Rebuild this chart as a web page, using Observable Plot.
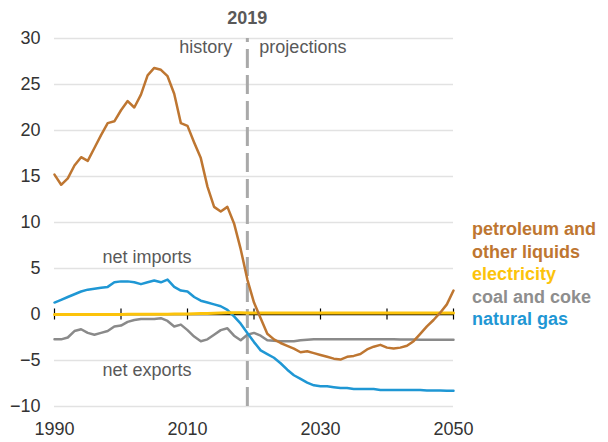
<!DOCTYPE html>
<html>
<head>
<meta charset="utf-8">
<script src="https://cdn.jsdelivr.net/npm/d3@7"></script>
<script src="https://cdn.jsdelivr.net/npm/@observablehq/plot@0.6"></script>
<style>
  html, body { margin: 0; padding: 0; background: #fff; }
  #wrap { position: relative; width: 608px; height: 442px; font-family: "Liberation Sans", Arial, sans-serif; }
  #legend { position: absolute; left: 472px; top: 218px; font-weight: bold; font-size: 18px; line-height: 22.6px; white-space: nowrap; }
</style>
</head>
<body>
<div id="wrap"><div id="legend"></div></div>
<script>
const years = d3.range(1990, 2051);

const petroleum = [15.2, 14.1, 14.8, 16.2, 17.1, 16.7, 18.1, 19.5, 20.8, 21.0,
  22.2, 23.2, 22.5, 23.9, 26.0, 26.8, 26.6, 25.9, 24.0, 20.8,
  20.5, 18.7, 17.0, 13.9, 11.7, 11.2, 11.7, 9.9, 7.1, 3.8,
  1.3, -0.4, -2.1, -2.7, -3.1, -3.4, -3.7, -4.1, -4.0, -4.2,
  -4.4, -4.6, -4.8, -4.9, -4.6, -4.5, -4.3, -3.8, -3.5, -3.3,
  -3.6, -3.7, -3.6, -3.4, -2.9, -2.1, -1.3, -0.6, 0.2, 1.1, 2.6];

const electricity = [0.0, 0.0, 0.0, 0.0, 0.0, 0.0, 0.0, 0.0, 0.0, 0.0,
  0.0, 0.02, 0.02, 0.03, 0.03, 0.03, 0.04, 0.04, 0.05, 0.05,
  0.06, 0.08, 0.1, 0.12, 0.14, 0.16, 0.18, 0.2, 0.2, 0.16,
  0.15, 0.15, 0.15, 0.15, 0.15, 0.15, 0.15, 0.15, 0.15, 0.15,
  0.15, 0.15, 0.15, 0.15, 0.15, 0.15, 0.15, 0.15, 0.15, 0.15,
  0.15, 0.15, 0.15, 0.15, 0.15, 0.15, 0.15, 0.15, 0.15, 0.15, 0.15];

const coal = [-2.7, -2.7, -2.5, -1.8, -1.6, -2.0, -2.2, -2.0, -1.8, -1.3,
  -1.2, -0.8, -0.6, -0.5, -0.5, -0.5, -0.4, -0.7, -1.3, -1.1,
  -1.7, -2.4, -2.9, -2.7, -2.2, -1.7, -1.5, -2.3, -2.8, -2.2,
  -2.0, -2.3, -2.8, -2.85, -2.9, -2.9, -2.9, -2.8, -2.75, -2.7,
  -2.7, -2.7, -2.7, -2.7, -2.7, -2.7, -2.7, -2.7, -2.7, -2.7,
  -2.7, -2.7, -2.72, -2.72, -2.72, -2.74, -2.74, -2.74, -2.75, -2.75, -2.75];

const naturalGas = [1.3, 1.6, 1.9, 2.2, 2.5, 2.7, 2.8, 2.9, 3.0, 3.5,
  3.6, 3.6, 3.5, 3.3, 3.5, 3.7, 3.5, 3.8, 3.0, 2.6,
  2.5, 1.9, 1.5, 1.3, 1.1, 0.9, 0.5, -0.2, -1.0, -2.0,
  -3.0, -3.9, -4.3, -4.7, -5.3, -6.0, -6.6, -7.0, -7.4, -7.7,
  -7.8, -7.8, -7.9, -8.0, -8.0, -8.1, -8.1, -8.1, -8.1, -8.2,
  -8.2, -8.2, -8.2, -8.2, -8.2, -8.2, -8.25, -8.25, -8.25, -8.3, -8.3];

const seriesNames = ["petroleum and other liquids", "electricity", "coal and coke", "natural gas"];
const legendLines = [["petroleum and", "#be7631"], ["other liquids", "#be7631"], ["electricity", "#fcc30b"], ["coal and coke", "#8e8e8e"], ["natural gas", "#1f97d4"]];
const yTicks = [-10, -5, 0, 5, 10, 15, 20, 25, 30];
const xLabels = [1990, 2010, 2030, 2050];
const xMinorTicks = [1990, 2000, 2010, 2020, 2030, 2040, 2050];
const splitYear = 2019;

const colors = {
  "petroleum and other liquids": "#be7631",
  "electricity": "#fcc30b",
  "coal and coke": "#8a8a8a",
  "natural gas": "#1f97d4"
};

const toRows = (vals, name) => years.map((yr, i) => ({year: yr, value: vals[i], series: name}));
const rowsPet = toRows(petroleum, seriesNames[0]);
const rowsEle = toRows(electricity, seriesNames[1]);
const rowsCoal = toRows(coal, seriesNames[2]);
const rowsGas = toRows(naturalGas, seriesNames[3]);

const labelColor = "#595959";

const chart = Plot.plot({
  width: 608,
  height: 442,
  marginLeft: 54,
  marginRight: 155,
  marginTop: 38,
  marginBottom: 36,
  style: {fontFamily: "'Liberation Sans', Arial, sans-serif", fontSize: "18px", color: "#333", background: "transparent", overflow: "visible"},
  x: {domain: [1990, 2050]},
  y: {domain: [-10, 30]},
  marks: [
    Plot.gridY(yTicks, {stroke: "#e2e2e2", strokeOpacity: 1, strokeWidth: 1.6}),
    Plot.axisY(yTicks, {tickSize: 0, tickPadding: 14, fontSize: 18, label: null}),
    Plot.axisX(xLabels, {tickSize: 0, tickPadding: 16, fontSize: 18, tickFormat: "d", label: null}),
    Plot.ruleY([0], {stroke: "#000", strokeWidth: 1.5}),
    Plot.ruleX(xMinorTicks, {x: d => d, y1: -0.6, y2: 0.6, stroke: "#000", strokeWidth: 1.2}),
    Plot.ruleX([splitYear], {x: d => d, y1: 30, y2: -10, stroke: "#a9a9a9", strokeWidth: 3, strokeDasharray: "19,7", strokeDashoffset: 15}),
    Plot.line(rowsCoal, {x: "year", y: "value", stroke: colors["coal and coke"], strokeWidth: 2.5}),
    Plot.line(rowsGas, {x: "year", y: "value", stroke: colors["natural gas"], strokeWidth: 2.5}),
    Plot.line(rowsEle, {x: "year", y: "value", stroke: colors["electricity"], strokeWidth: 3}),
    Plot.line(rowsPet, {x: "year", y: "value", stroke: colors["petroleum and other liquids"], strokeWidth: 2.5}),
    Plot.text([splitYear], {x: d => d, frameAnchor: "top", lineAnchor: "middle", dy: -20, text: d => String(d), fontWeight: "bold", fill: labelColor, fontSize: 18}),
    Plot.text(["history"], {x: () => splitYear, frameAnchor: "top", lineAnchor: "middle", dy: 9, dx: -15, textAnchor: "end", text: d => d, fill: labelColor, fontSize: 18}),
    Plot.text(["projections"], {x: () => splitYear, frameAnchor: "top", lineAnchor: "middle", dy: 9, dx: 12, textAnchor: "start", text: d => d, fill: labelColor, fontSize: 18}),
    Plot.text([{x: 2003.9, y: 6.2, t: "net imports"}], {x: "x", y: "y", text: "t", fill: labelColor, fontSize: 18}),
    Plot.text([{x: 2003.9, y: -6.1, t: "net exports"}], {x: "x", y: "y", text: "t", fill: labelColor, fontSize: 18})
  ]
});

const wrap = document.getElementById("wrap");
wrap.insertBefore(chart, wrap.firstChild);
const legend = document.getElementById("legend");
legendLines.forEach(([t, c]) => {
  const d = document.createElement("div");
  d.textContent = t;
  d.style.color = c;
  legend.appendChild(d);
});
</script>
</body>
</html>
